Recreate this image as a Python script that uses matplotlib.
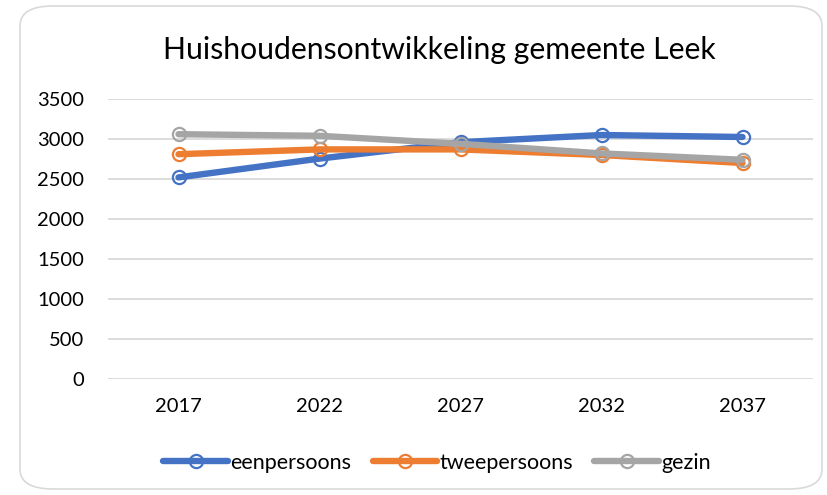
import numpy as np
import matplotlib.pyplot as plt
from matplotlib.patches import FancyBboxPatch

plt.rcParams['font.family'] = ['Lato', 'DejaVu Sans']

# data
jaren = ['2017', '2022', '2027', '2032', '2037']
eenpersoons = [2520, 2755, 2960, 3050, 3025]
tweepersoons = [2810, 2870, 2870, 2800, 2700]
gezin = [3060, 3040, 2940, 2820, 2740]

series = [('eenpersoons', eenpersoons, '#4472C4'),
          ('tweepersoons', tweepersoons, '#ED7D31'),
          ('gezin', gezin, '#A5A5A5')]

fig = plt.figure(figsize=(8.27, 4.95), dpi=100)
# chart border (rounded, light grey)
border = FancyBboxPatch((20 / 827, 6 / 495), 802 / 827, 483 / 495,
                        boxstyle='round,pad=0,rounding_size=0.04',
                        transform=fig.transFigure, fill=False,
                        edgecolor='#D9D9D9', linewidth=1.2)
fig.patches.append(border)

ax = fig.add_axes([108 / 827, 1 - 379 / 495, 705 / 827, 280 / 495])
x = np.arange(len(jaren))
for name, vals, col in series:
    ax.plot(x, vals, color=col, linewidth=4.6, marker='o', markersize=9.5,
            markerfacecolor='none', markeredgecolor=col, markeredgewidth=1.6,
            label=name, solid_capstyle='round')

ax.set_xlim(-0.5, len(jaren) - 0.5)
ax.set_ylim(0, 3500)
ax.set_yticks(np.arange(0, 3501, 500))
ax.set_xticks(x)
ax.set_xticklabels(jaren)
ax.grid(axis='y', color='#D9D9D9', linewidth=1.3)
ax.set_axisbelow(True)
for s in ax.spines.values():
    s.set_visible(False)
ax.tick_params(length=0, labelsize=14.5, colors='black', pad=17)
ax.tick_params(axis='x', pad=14)

fig.text(439 / 827, 1 - 50 / 495, 'Huishoudensontwikkeling gemeente Leek',
         ha='center', va='center', fontsize=21.7)

fig.legend(loc='center', bbox_to_anchor=(437 / 827, 1 - 463 / 495), ncol=3,
           frameon=False, fontsize=15.5, handlelength=3, handletextpad=0.1,
           columnspacing=1.0)

fig.savefig('out.png', dpi=100)
